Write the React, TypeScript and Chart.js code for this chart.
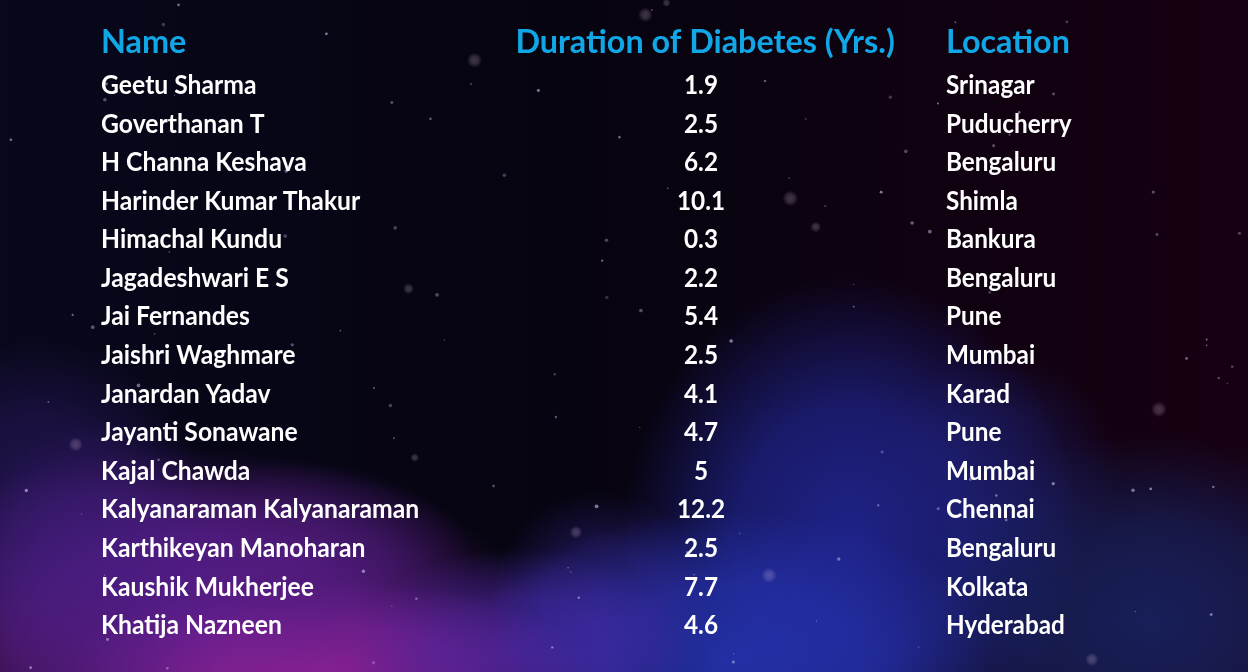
import React, { useEffect, useRef } from "react";
import { Chart, registerables } from "chart.js";

Chart.register(...registerables);

const headers = ["Name", "Duration of Diabetes (Yrs.)", "Location"];
const names = [
  "Geetu Sharma",
  "Goverthanan T",
  "H Channa Keshava",
  "Harinder Kumar Thakur",
  "Himachal Kundu",
  "Jagadeshwari E S",
  "Jai Fernandes",
  "Jaishri Waghmare",
  "Janardan Yadav",
  "Jayanti Sonawane",
  "Kajal Chawda",
  "Kalyanaraman Kalyanaraman",
  "Karthikeyan Manoharan",
  "Kaushik Mukherjee",
  "Khatija Nazneen",
];
const durations = [1.9, 2.5, 6.2, 10.1, 0.3, 2.2, 5.4, 2.5, 4.1, 4.7, 5, 12.2, 2.5, 7.7, 4.6];
const locations = [
  "Srinagar",
  "Puducherry",
  "Bengaluru",
  "Shimla",
  "Bankura",
  "Bengaluru",
  "Pune",
  "Mumbai",
  "Karad",
  "Pune",
  "Mumbai",
  "Chennai",
  "Bengaluru",
  "Kolkata",
  "Hyderabad",
];

// column anchors on the x scale (percent of width)
const COL_NAME = 8.1;
const COL_DUR_HEAD = 56.5;
const COL_DUR = 56.17;
const COL_LOC = 75.8;
const HEADER_ROW = -1.12;

function makeRand(seed: number) {
  let s = seed;
  return () => {
    s = (s * 1664525 + 1013904223) % 4294967296;
    return s / 4294967296;
  };
}

const backgroundPlugin = {
  id: "spaceBg",
  beforeDraw(chart: any) {
    const { ctx, width: w, height: h } = chart;
    ctx.save();
    const base = ctx.createLinearGradient(0, 0, w, 0);
    base.addColorStop(0, "#08081c");
    base.addColorStop(0.45, "#060410");
    base.addColorStop(1, "#170011");
    ctx.fillStyle = base;
    ctx.fillRect(0, 0, w, h);

    const blob = (x: number, y: number, r: number, rgb: string, a: number, sx = 1, sy = 1) => {
      ctx.save();
      ctx.translate(x, y);
      ctx.scale(sx, sy);
      const g = ctx.createRadialGradient(0, 0, 0, 0, 0, r);
      g.addColorStop(0, `rgba(${rgb},${a})`);
      g.addColorStop(0.5, `rgba(${rgb},${a * 0.75})`);
      g.addColorStop(1, `rgba(${rgb},0)`);
      ctx.fillStyle = g;
      ctx.beginPath();
      ctx.arc(0, 0, r, 0, Math.PI * 2);
      ctx.fill();
      ctx.restore();
    };
    // nebula
    blob(850, 540, 230, "35,42,165", 0.8, 1, 1.15);
    blob(730, 660, 230, "38,52,180", 0.85, 1.15, 0.65);
    blob(1150, 620, 250, "25,45,120", 0.7, 1, 0.75);
    blob(1000, 470, 120, "30,35,120", 0.45, 1, 1);
    blob(190, 630, 300, "105,30,140", 0.9, 1.15, 0.6);
    blob(330, 670, 200, "150,35,160", 0.75, 1.3, 0.45);
    blob(280, 565, 150, "85,30,140", 0.6, 1.3, 0.7);
    blob(520, 650, 170, "80,40,170", 0.7, 1, 0.6);
    blob(40, 500, 160, "55,30,120", 0.5, 1, 1);
    blob(110, 570, 150, "75,30,140", 0.5, 1, 1);
    blob(600, 600, 110, "60,45,170", 0.45, 1, 1);

    // stars
    const rand = makeRand(98765);
    for (let i = 0; i < 110; i++) {
      const x = rand() * w;
      const y = rand() * h;
      const r = 0.6 + rand() * 1.3;
      const a = 0.2 + rand() * 0.45;
      ctx.fillStyle = `rgba(200,190,235,${a})`;
      ctx.beginPath();
      ctx.arc(x, y, r, 0, Math.PI * 2);
      ctx.fill();
    }
    for (let i = 0; i < 12; i++) {
      const x = rand() * w;
      const y = rand() * h;
      blob(x, y, 4 + rand() * 4, "230,200,240", 0.25);
    }
    ctx.restore();
  },
};

function drawScaled(ctx: any, text: string, x: number, y: number, align: string, sx: number) {
  ctx.save();
  ctx.translate(x, y);
  ctx.scale(sx, 1);
  ctx.textAlign = align;
  ctx.fillText(text, 0, 0);
  ctx.restore();
}

const tablePlugin = {
  id: "tableText",
  afterDatasetsDraw(chart: any) {
    const { ctx, scales } = chart;
    const xs = scales.x;
    const ys = scales.y;
    ctx.save();
    ctx.textBaseline = "middle";
    // headers
    ctx.fillStyle = "#11a6e6";
    ctx.font = "bold 33px Lato";
    const hy = ys.getPixelForValue(HEADER_ROW);
    drawScaled(ctx, headers[0], xs.getPixelForValue(COL_NAME), hy, "left", 0.98);
    drawScaled(ctx, headers[1], xs.getPixelForValue(COL_DUR_HEAD), hy, "center", 0.98);
    drawScaled(ctx, headers[2], xs.getPixelForValue(COL_LOC), hy, "left", 0.98);

    ctx.fillStyle = "#ffffff";
    ctx.font = "bold 26px Lato";
    const meta = chart.getDatasetMeta(0);
    names.forEach((n, i) => {
      const pt = meta.data[i];
      const y = pt.y;
      drawScaled(ctx, n, xs.getPixelForValue(COL_NAME), y, "left", 0.95);
      drawScaled(ctx, String(durations[i]), pt.x, y, "center", 0.935);
      drawScaled(ctx, locations[i], xs.getPixelForValue(COL_LOC), y, "left", 0.935);
    });
    ctx.restore();
  },
};

export default function App() {
  const ref = useRef<HTMLCanvasElement>(null);
  useEffect(() => {
    document.body.style.margin = "0";
    const chart = new Chart(ref.current!, {
      type: "scatter",
      data: {
        datasets: [
          {
            data: durations.map((_, i) => ({ x: COL_DUR, y: i })),
            pointRadius: 0,
          },
        ],
      },
      options: {
        responsive: false,
        animation: false,
        layout: { padding: 0 },
        plugins: { legend: { display: false }, tooltip: { enabled: false } },
        scales: {
          x: { type: "linear", min: 0, max: 100, display: false },
          y: { type: "linear", reverse: true, min: -2.22, max: 15.2, display: false },
        },
      },
      plugins: [backgroundPlugin, tablePlugin],
    });
    return () => chart.destroy();
  }, []);
  return <canvas ref={ref} width={1248} height={672} style={{ display: "block" }} />;
}
